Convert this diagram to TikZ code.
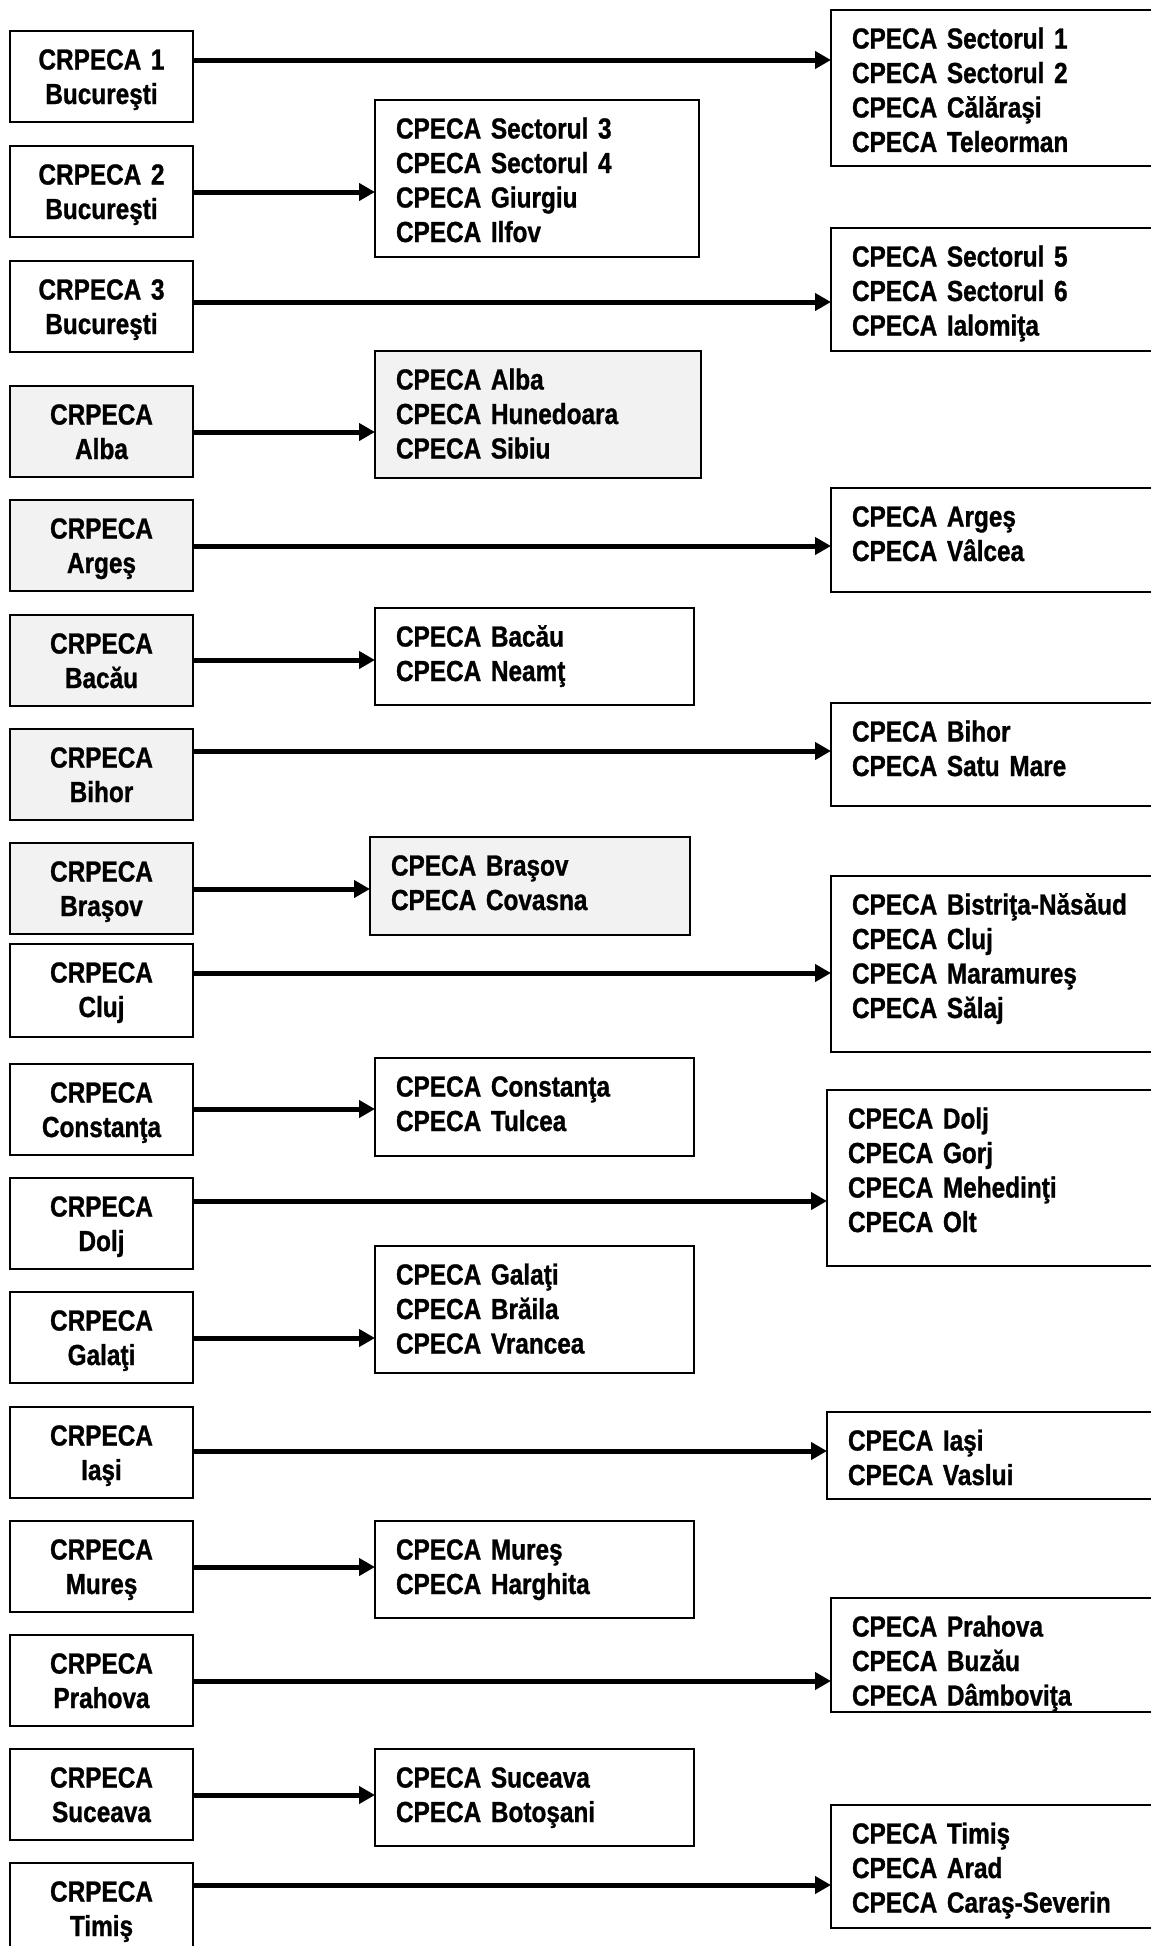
\documentclass[tikz,border=0pt]{standalone}
\usepackage{fontspec}
\setmainfont{Liberation Sans}[FakeStretch=0.84, BoldFeatures={FakeBold=1}]
\usetikzlibrary{arrows.meta}
\definecolor{boxgray}{HTML}{F2F2F2}
\tikzset{
  box/.style={draw=black, line width=2.2pt, fill=white, anchor=north west, outer sep=0pt,
    inner ysep=10pt, text height=28.5pt, font={\bfseries\fontsize{29pt}{34.5pt}\selectfont}},
  lbox/.style={box, align=center, inner xsep=0pt, text width=183pt},
  tbox/.style={box, align=left, inner xsep=21pt},
  shaded/.style={fill=boxgray},
  arr/.style={line width=5pt, -{Triangle[length=16pt,width=17pt]}},
}
\begin{document}
\begin{tikzpicture}[x=1pt,y=-1pt]
\useasboundingbox (0,0) rectangle (1151,1946);
\fill[white] (0,0) rectangle (1151,1946);
\clip (0,0) rectangle (1151,1946);

% left boxes
\node[lbox, text depth=42.5pt] (L1) at (10,31) {CRPECA 1\\Bucureşti};
\node[lbox, text depth=42.5pt] (L2) at (10,146) {CRPECA 2\\Bucureşti};
\node[lbox, text depth=42.5pt] (L3) at (10,261) {CRPECA 3\\Bucureşti};
\node[lbox, shaded, text depth=42.5pt] (L4) at (10,386) {CRPECA\\Alba};
\node[lbox, shaded, text depth=42.5pt] (L5) at (10,500) {CRPECA\\Argeş};
\node[lbox, shaded, text depth=42.5pt] (L6) at (10,615) {CRPECA\\Bacău};
\node[lbox, shaded, text depth=42.5pt] (L7) at (10,729) {CRPECA\\Bihor};
\node[lbox, shaded, text depth=42.5pt] (L8) at (10,843) {CRPECA\\Braşov};
\node[lbox, text depth=44.5pt] (L9) at (10,944) {CRPECA\\Cluj};
\node[lbox, text depth=42.5pt] (L10) at (10,1064) {CRPECA\\Constanţa};
\node[lbox, text depth=42.5pt] (L11) at (10,1178) {CRPECA\\Dolj};
\node[lbox, text depth=42.5pt] (L12) at (10,1292) {CRPECA\\Galaţi};
\node[lbox, text depth=42.5pt] (L13) at (10,1407) {CRPECA\\Iaşi};
\node[lbox, text depth=42.5pt] (L14) at (10,1521) {CRPECA\\Mureş};
\node[lbox, text depth=42.5pt] (L15) at (10,1635) {CRPECA\\Prahova};
\node[lbox, text depth=42.5pt] (L16) at (10,1749) {CRPECA\\Suceava};
\node[lbox, text depth=42.5pt] (L17) at (10,1863) {CRPECA\\Timiş};

% middle boxes
\node[tbox, text width=282pt, text depth=108.5pt] (M2) at (375,100)
  {CPECA Sectorul 3\\CPECA Sectorul 4\\CPECA Giurgiu\\CPECA Ilfov};
\node[tbox, shaded, text width=284pt, text depth=78.5pt] (M4) at (375,351)
  {CPECA Alba\\CPECA Hunedoara\\CPECA Sibiu};
\node[tbox, text width=277pt, text depth=48.5pt] (M6) at (375,608)
  {CPECA Bacău\\CPECA Neamţ};
\node[tbox, shaded, text width=278pt, text depth=49.5pt] (M8) at (370,837)
  {CPECA Braşov\\CPECA Covasna};
\node[tbox, text width=277pt, text depth=49.5pt] (M10) at (375,1058)
  {CPECA Constanţa\\CPECA Tulcea};
\node[tbox, text width=277pt, text depth=78.5pt] (M12) at (375,1246)
  {CPECA Galaţi\\CPECA Brăila\\CPECA Vrancea};
\node[tbox, text width=277pt, text depth=48.5pt] (M14) at (375,1521)
  {CPECA Mureş\\CPECA Harghita};
\node[tbox, text width=277pt, text depth=48.5pt] (M16) at (375,1749)
  {CPECA Suceava\\CPECA Botoşani};

% right boxes
\node[tbox, text width=302pt, text depth=107.5pt] (R1) at (831,10)
  {CPECA Sectorul 1\\CPECA Sectorul 2\\CPECA Călăraşi\\CPECA Teleorman};
\node[tbox, text width=302pt, text depth=74.5pt] (R3) at (831,228)
  {CPECA Sectorul 5\\CPECA Sectorul 6\\CPECA Ialomiţa};
\node[tbox, text width=302pt, text depth=55.5pt] (R5) at (831,488)
  {CPECA Argeş\\CPECA Vâlcea};
\node[tbox, text width=302pt, text depth=54.5pt] (R7) at (831,703)
  {CPECA Bihor\\CPECA Satu Mare};
\node[tbox, text width=302pt, text depth=127.5pt] (R9) at (831,876)
  {CPECA Bistriţa-Năsăud\\CPECA Cluj\\CPECA Maramureş\\CPECA Sălaj};
\node[tbox, text width=306pt, text depth=127.5pt] (R11) at (827,1090)
  {CPECA Dolj\\CPECA Gorj\\CPECA Mehedinţi\\CPECA Olt};
\node[tbox, text width=306pt, text depth=38.5pt] (R13) at (827,1412)
  {CPECA Iaşi\\CPECA Vaslui};
\node[tbox, text width=302pt, text depth=65.5pt] (R15) at (831,1598)
  {CPECA Prahova\\CPECA Buzău\\CPECA Dâmboviţa};
\node[tbox, text width=302pt, text depth=74.5pt] (R17) at (831,1805)
  {CPECA Timiş\\CPECA Arad\\CPECA Caraş-Severin};

% arrow heights
\coordinate (a1) at (0,60);
\coordinate (a2) at (0,192);
\coordinate (a3) at (0,302);
\coordinate (a4) at (0,432);
\coordinate (a5) at (0,546);
\coordinate (a6) at (0,660);
\coordinate (a7) at (0,751);
\coordinate (a8) at (0,889);
\coordinate (a9) at (0,973);
\coordinate (a10) at (0,1109);
\coordinate (a11) at (0,1201);
\coordinate (a12) at (0,1338);
\coordinate (a13) at (0,1451);
\coordinate (a14) at (0,1567);
\coordinate (a15) at (0,1681);
\coordinate (a16) at (0,1795);
\coordinate (a17) at (0,1885);

\draw[arr] (L1.east |- a1) -- (R1.west |- a1);
\draw[arr] (L2.east |- a2) -- (M2.west |- a2);
\draw[arr] (L3.east |- a3) -- (R3.west |- a3);
\draw[arr] (L4.east |- a4) -- (M4.west |- a4);
\draw[arr] (L5.east |- a5) -- (R5.west |- a5);
\draw[arr] (L6.east |- a6) -- (M6.west |- a6);
\draw[arr] (L7.east |- a7) -- (R7.west |- a7);
\draw[arr] (L8.east |- a8) -- (M8.west |- a8);
\draw[arr] (L9.east |- a9) -- (R9.west |- a9);
\draw[arr] (L10.east |- a10) -- (M10.west |- a10);
\draw[arr] (L11.east |- a11) -- (R11.west |- a11);
\draw[arr] (L12.east |- a12) -- (M12.west |- a12);
\draw[arr] (L13.east |- a13) -- (R13.west |- a13);
\draw[arr] (L14.east |- a14) -- (M14.west |- a14);
\draw[arr] (L15.east |- a15) -- (R15.west |- a15);
\draw[arr] (L16.east |- a16) -- (M16.west |- a16);
\draw[arr] (L17.east |- a17) -- (R17.west |- a17);
\end{tikzpicture}
\end{document}
